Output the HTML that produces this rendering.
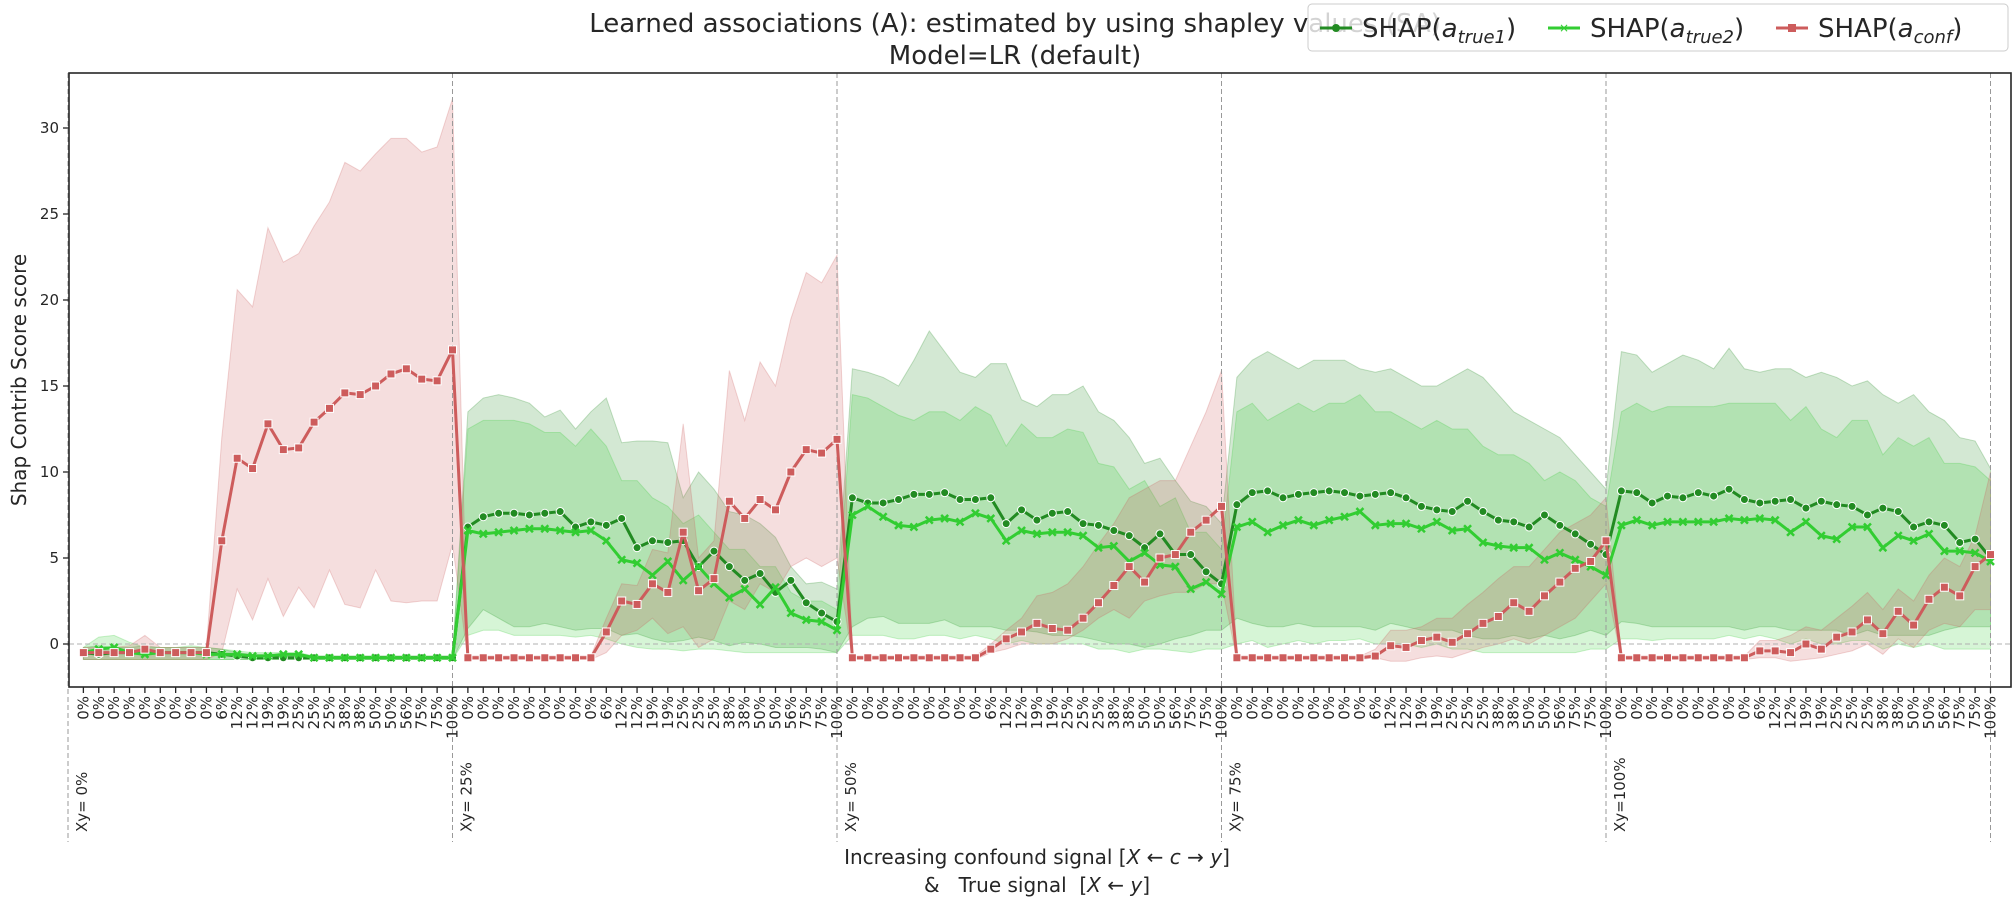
<!DOCTYPE html>
<html><head><meta charset="utf-8">
<style>
html,body{margin:0;padding:0;background:#fff;}
svg{display:block;font-family:"DejaVu Sans","Liberation Sans",sans-serif;}
</style></head>
<body>
<svg id="chart" width="2015" height="908" viewBox="0 0 2015 908" xmlns="http://www.w3.org/2000/svg">
<g id="bands"></g>
<g id="grid"></g>
<g id="lines"></g>
<g id="axes"></g>
<text x="1015" y="32" font-size="26" text-anchor="middle" fill="#262626">Learned associations (A): estimated by using shapley values (SA)</text>
<text x="1015" y="64" font-size="26" text-anchor="middle" fill="#262626">Model=LR (default)</text>
<text transform="translate(26,380) rotate(-90)" font-size="20" text-anchor="middle" fill="#262626">Shap Contrib Score score</text>
<text x="1037" y="864" font-size="20" text-anchor="middle" fill="#262626">Increasing confound signal [<tspan font-style="italic">X</tspan> ← <tspan font-style="italic">c</tspan> → <tspan font-style="italic">y</tspan>]</text>
<text x="1037" y="892" font-size="20" text-anchor="middle" fill="#262626" xml:space="preserve">&amp;   True signal  [<tspan font-style="italic">X</tspan> ← <tspan font-style="italic">y</tspan>]</text>
<g>
<rect x="1308" y="4" width="700" height="47" rx="4" fill="rgba(255,255,255,0.8)" stroke="#ccc"/>
<g>
<line x1="1320" y1="28" x2="1352" y2="28" stroke="#228b22" stroke-width="3"/><circle cx="1336" cy="28" r="4" fill="#228b22"/>
<text x="1362" y="37" font-size="26" fill="#262626">SHAP(<tspan font-style="italic">a</tspan><tspan font-size="18" dy="6" font-style="italic">true1</tspan><tspan dy="-6">)</tspan></text></g>
<g>
<line x1="1548" y1="28" x2="1580" y2="28" stroke="#32cd32" stroke-width="3"/><text x="1564" y="32" font-size="12" text-anchor="middle" fill="#32cd32">×</text>
<text x="1590" y="37" font-size="26" fill="#262626">SHAP(<tspan font-style="italic">a</tspan><tspan font-size="18" dy="6" font-style="italic">true2</tspan><tspan dy="-6">)</tspan></text></g>
<g>
<line x1="1776" y1="28" x2="1808" y2="28" stroke="#cd5c5c" stroke-width="3"/><rect x="1788" y="24" width="8" height="8" fill="#cd5c5c"/>
<text x="1818" y="37" font-size="26" fill="#262626">SHAP(<tspan font-style="italic">a</tspan><tspan font-size="18" dy="6" font-style="italic">conf</tspan><tspan dy="-6">)</tspan></text></g>
</g>
</svg>
<script>
const groupLabels = ["Xy= 0%","Xy= 25%","Xy= 50%","Xy= 75%","Xy=100%"];
const tickLabelsGroup = ["0%","0%","0%","0%","0%","0%","0%","0%","0%","6%","12%","12%","19%","19%","25%","25%","25%","38%","38%","50%","50%","56%","75%","75%","100%"];
const yTicks = [0,5,10,15,20,25,30];
const true1 = [-0.5,-0.6,-0.5,-0.5,-0.4,-0.5,-0.5,-0.5,-0.5,-0.6,-0.7,-0.8,-0.8,-0.8,-0.8,-0.8,-0.8,-0.8,-0.8,-0.8,-0.8,-0.8,-0.8,-0.8,-0.8,
6.8,7.4,7.6,7.6,7.5,7.6,7.7,6.8,7.1,6.9,7.3,5.6,6.0,5.9,6.0,4.5,5.4,4.5,3.7,4.1,3.0,3.7,2.4,1.8,1.3,
8.5,8.2,8.2,8.4,8.7,8.7,8.8,8.4,8.4,8.5,7.0,7.8,7.2,7.6,7.7,7.0,6.9,6.6,6.3,5.6,6.4,5.2,5.2,4.2,3.5,
8.1,8.8,8.9,8.5,8.7,8.8,8.9,8.8,8.6,8.7,8.8,8.5,8.0,7.8,7.7,8.3,7.7,7.2,7.1,6.8,7.5,6.9,6.4,5.8,5.2,
8.9,8.8,8.2,8.6,8.5,8.8,8.6,9.0,8.4,8.2,8.3,8.4,7.9,8.3,8.1,8.0,7.5,7.9,7.7,6.8,7.1,6.9,5.9,6.1,5.0];
const true1Hi = [-0.2,-0.1,-0.2,-0.2,-0.1,-0.2,-0.2,-0.2,-0.2,-0.3,-0.5,-0.6,-0.6,-0.6,-0.7,-0.7,-0.7,-0.7,-0.7,-0.7,-0.7,-0.7,-0.7,-0.7,-0.7,
13.5,14.3,14.5,14.3,14.0,13.2,13.6,12.5,13.5,14.3,11.7,11.8,11.8,11.7,8.5,10.0,9.0,7.7,7.5,7.0,6.2,4.5,3.5,3.6,3.2,
16.0,15.8,15.5,15.0,16.5,18.2,17.0,15.8,15.5,16.3,16.3,14.2,13.8,14.5,14.5,15.0,13.5,13.0,12.0,10.5,10.8,9.5,8.3,8.0,7.0,
15.5,16.5,17.0,16.5,16.0,16.5,16.5,16.5,16.0,15.8,16.0,15.5,15.0,15.0,15.5,16.0,15.5,14.5,13.5,13.0,12.5,12.0,11.0,10.0,9.0,
17.0,16.8,15.8,16.3,16.8,16.5,16.0,17.2,16.0,15.8,16.0,16.0,15.5,15.8,15.5,15.0,15.3,14.5,14.0,14.5,13.5,13.0,12.0,11.8,10.2];
const true1Lo = [-0.9,-0.9,-0.9,-0.9,-0.9,-0.9,-0.9,-0.9,-0.9,-0.9,-0.9,-0.9,-0.9,-0.9,-0.9,-0.9,-0.9,-0.9,-0.9,-0.9,-0.9,-0.9,-0.9,-0.9,-0.9,
0.9,2.0,1.5,1.0,1.0,1.2,1.0,0.8,0.9,0.9,0.5,0.6,0.3,0.1,0.2,0.4,0.2,-0.1,0.1,0,-0.2,-0.2,-0.2,-0.3,-0.5,
1.0,1.5,1.6,1.2,1.2,1.2,1.4,1.0,1.0,1.0,0.8,0.8,0.7,0.5,0.5,0.4,0.2,0,0,-0.2,0,0.3,0.5,0.8,0.8,
1.5,1.2,1.0,1.0,1.2,1.0,1.0,1.0,1.0,0.8,1.2,1.0,0.8,0.8,0.8,0.5,0.3,0.3,0.5,0.3,0.5,0.3,0.5,0.8,0.5,
1.3,1.2,1.0,1.0,1.0,1.0,1.0,1.0,0.8,1.0,1.0,0.8,0.8,0.8,0.8,0.5,0.8,0.5,0.5,0.5,0.5,0.8,1.0,1.0,1.0];
const true2 = [-0.5,-0.3,-0.2,-0.5,-0.6,-0.5,-0.5,-0.5,-0.6,-0.6,-0.6,-0.7,-0.7,-0.6,-0.6,-0.8,-0.8,-0.8,-0.8,-0.8,-0.8,-0.8,-0.8,-0.8,-0.8,
6.6,6.4,6.5,6.6,6.7,6.7,6.6,6.5,6.6,6.0,4.9,4.7,4.0,4.8,3.7,4.5,3.5,2.7,3.2,2.3,3.3,1.8,1.4,1.3,0.8,
7.5,8.0,7.4,6.9,6.8,7.2,7.3,7.1,7.6,7.3,6.0,6.6,6.4,6.5,6.5,6.3,5.6,5.7,4.8,5.3,4.6,4.5,3.2,3.6,2.9,
6.8,7.1,6.5,6.9,7.2,6.9,7.2,7.4,7.7,6.9,7.0,7.0,6.7,7.1,6.6,6.7,5.9,5.7,5.6,5.6,4.9,5.3,4.9,4.5,4.0,
6.9,7.2,6.9,7.1,7.1,7.1,7.1,7.3,7.2,7.3,7.2,6.5,7.1,6.3,6.1,6.8,6.8,5.6,6.3,6.0,6.4,5.4,5.4,5.3,4.8];
const true2Hi = [-0.2,0.4,0.5,0.1,-0.2,-0.2,-0.2,-0.1,-0.2,-0.3,-0.4,-0.5,-0.5,-0.5,-0.5,-0.7,-0.7,-0.7,-0.7,-0.7,-0.7,-0.7,-0.7,-0.7,-0.7,
12.5,13.0,13.0,13.0,12.8,12.3,12.3,11.5,12.5,11.5,9.5,9.5,8.5,8.0,7.0,7.5,6.5,5.5,5.5,4.5,4.5,3.0,2.5,2.5,2.0,
14.5,14.3,13.8,13.3,13.0,13.5,13.5,13.0,13.8,13.3,11.5,12.8,12.0,12.0,12.5,12.3,10.5,10.3,9.0,9.5,8.0,8.5,6.5,6.5,5.5,
13.5,14.0,13.0,13.5,14.0,13.5,14.0,14.0,14.5,13.5,13.5,13.0,12.5,13.0,12.5,12.5,11.5,11.0,11.0,10.5,9.5,10.0,9.5,8.5,8.0,
13.5,14.0,13.5,13.8,13.8,13.8,13.8,14.0,14.0,14.0,14.0,13.0,13.8,12.5,12.0,13.0,13.0,11.0,12.0,11.5,12.0,10.5,10.5,10.3,9.5];
const true2Lo = [-0.9,-0.9,-0.9,-0.9,-0.9,-0.9,-0.9,-0.9,-0.9,-0.9,-0.9,-0.9,-0.9,-0.9,-0.9,-0.9,-0.9,-0.9,-0.9,-0.9,-0.9,-0.9,-0.9,-0.9,-0.9,
0.5,0.8,0.8,0.5,0.5,0.5,0.5,0.4,0.5,0.3,0,-0.2,-0.3,-0.3,-0.4,-0.3,-0.3,-0.4,-0.5,-0.5,-0.5,-0.5,-0.5,-0.5,-0.5,
0.5,0.5,0.5,0.3,0.3,0.5,0.5,0.3,0.5,0.3,0,0.2,0,0,0,0,-0.3,-0.3,-0.5,-0.3,-0.3,-0.4,-0.5,-0.3,-0.3,
0,0.2,-0.2,0,0.2,0,0.2,0.2,0.3,0,0,0,-0.2,0,-0.3,-0.3,-0.5,-0.5,-0.5,-0.5,-0.5,-0.5,-0.5,-0.3,-0.3,
0.3,0.3,0.2,0.3,0.3,0.3,0.3,0.5,0.3,0.5,0.3,0,0.3,0,0,0.2,0.2,-0.3,0,-0.2,0,-0.3,-0.3,-0.3,-0.3];
const conf = [-0.5,-0.5,-0.5,-0.5,-0.3,-0.5,-0.5,-0.5,-0.5,6.0,10.8,10.2,12.8,11.3,11.4,12.9,13.7,14.6,14.5,15.0,15.7,16.0,15.4,15.3,17.1,
-0.8,-0.8,-0.8,-0.8,-0.8,-0.8,-0.8,-0.8,-0.8,0.7,2.5,2.3,3.5,3.0,6.5,3.1,3.8,8.3,7.3,8.4,7.8,10.0,11.3,11.1,11.9,
-0.8,-0.8,-0.8,-0.8,-0.8,-0.8,-0.8,-0.8,-0.8,-0.3,0.3,0.7,1.2,0.9,0.8,1.5,2.4,3.4,4.5,3.6,5.0,5.2,6.5,7.2,8.0,
-0.8,-0.8,-0.8,-0.8,-0.8,-0.8,-0.8,-0.8,-0.8,-0.7,-0.1,-0.2,0.2,0.4,0.1,0.6,1.2,1.6,2.4,1.9,2.8,3.6,4.4,4.8,6.0,
-0.8,-0.8,-0.8,-0.8,-0.8,-0.8,-0.8,-0.8,-0.8,-0.4,-0.4,-0.5,0.0,-0.3,0.4,0.7,1.4,0.6,1.9,1.1,2.6,3.3,2.8,4.5,5.2];
const confHi = [-0.2,-0.2,-0.2,-0.1,0.5,-0.2,-0.2,-0.2,-0.2,12.0,20.6,19.6,24.2,22.2,22.7,24.3,25.7,28.0,27.5,28.5,29.4,29.4,28.6,28.9,31.7,
-0.7,-0.7,-0.7,-0.7,-0.7,-0.7,-0.7,-0.7,-0.7,1.5,3.5,3.4,5.5,5.3,12.8,5.0,6.0,15.9,13.0,16.4,15.0,18.9,21.6,21.0,22.6,
-0.7,-0.7,-0.7,-0.7,-0.7,-0.7,-0.7,-0.7,-0.7,0.0,0.8,1.5,2.8,3.0,3.5,4.5,5.8,7.0,8.5,9.0,9.5,9.5,11.5,13.5,15.9,
-0.7,-0.7,-0.7,-0.7,-0.7,-0.7,-0.7,-0.7,-0.7,-0.3,0.8,0.8,1.0,1.5,1.5,2.3,3.0,3.8,4.5,4.5,5.5,6.5,7.0,7.5,8.5,
-0.7,-0.7,-0.7,-0.7,-0.7,-0.7,-0.7,-0.7,-0.7,0.2,0.2,0.5,1.0,0.8,1.5,2.2,3.0,2.0,3.2,2.5,4.0,5.0,4.5,6.3,10.0];
const confLo = [-0.9,-0.9,-0.9,-0.9,-0.9,-0.9,-0.9,-0.9,-0.9,-0.5,3.2,1.4,3.8,1.6,3.3,2.1,4.3,2.3,2.1,4.3,2.5,2.4,2.5,2.5,5.8,
-0.9,-0.9,-0.9,-0.9,-0.9,-0.9,-0.9,-0.9,-0.9,-0.5,0.5,0.8,1.5,0.6,1.0,-0.2,0.3,2.5,2.0,3.5,3.0,4.5,5.0,4.5,5.0,
-0.9,-0.9,-0.9,-0.9,-0.9,-0.9,-0.9,-0.9,-0.9,-0.5,-0.3,0,0,0,0.3,0.8,1.5,2.0,1.5,2.5,2.8,3.0,3.0,3.5,3.5,
-0.9,-0.9,-0.9,-0.9,-0.9,-0.9,-0.9,-0.9,-0.9,-0.8,-1.0,-1.0,-0.8,-0.7,-0.8,-0.5,-0.2,0,0.3,0,0.5,1.0,1.5,2.5,3.5,
-0.9,-0.9,-0.9,-0.9,-0.9,-0.9,-0.9,-0.9,-0.9,-0.8,-0.8,-1.0,-0.9,-0.8,-0.6,-0.4,0,-0.6,0.3,-0.2,0.8,1.2,1.0,2.0,2.0];

const NS="http://www.w3.org/2000/svg";
const L=69,R=2011,T=73,B=687;
const X0=68, STEP=15.38;
const xs=i=>X0+STEP*(i+1);
const ys=v=>644-17.2*v;
const N=true1.length;
function mk(tag,attrs,parent){const e=document.createElementNS(NS,tag);for(const k in attrs)e.setAttribute(k,attrs[k]);parent.appendChild(e);return e;}
const gB=document.getElementById('bands'),gG=document.getElementById('grid'),gL=document.getElementById('lines'),gA=document.getElementById('axes');

// grid: horizontal zero line and vertical group separators
let hz=mk('line',{x1:L,x2:R,y1:ys(0),y2:ys(0),stroke:'#b0b0b0','stroke-width':1,'stroke-dasharray':'5,3'},gG);


for(let g=0;g<=groupLabels.length;g++){
  const x=xs(g*tickLabelsGroup.length-1);
  const vl=mk('line',{x1:x,x2:x,y1:T,y2:842,stroke:'#999','stroke-width':1,'stroke-dasharray':'5,3'},gG);
  
  
  if(g<groupLabels.length){
    const t=mk('text',{transform:`translate(${x+19},832) rotate(-90)`,'font-size':15,fill:'#262626'},gA);
    t.textContent=groupLabels[g];
    
    
  }
}
function band(hi,lo,color,name){
  let d='M'+hi.map((v,i)=>xs(i)+','+ys(v)).join('L');
  for(let i=N-1;i>=0;i--)d+='L'+xs(i)+','+ys(lo[i]);
  const p=mk('path',{d:d+'Z',fill:color,'fill-opacity':0.2,stroke:color,'stroke-opacity':0.25,'stroke-width':1},gB);
  
  
}
band(true1Hi,true1Lo,'#228b22','band-true1');
band(true2Hi,true2Lo,'#32cd32','band-true2');
band(confHi,confLo,'#cd5c5c','band-conf');

function series(vals,color,marker,name){
  const g=mk('g',{},gL);
  
  
  mk('polyline',{points:vals.map((v,i)=>xs(i)+','+ys(v)).join(' '),fill:'none',stroke:color,'stroke-width':3,'stroke-linejoin':'round'},g);
  vals.forEach((v,i)=>{
    const x=xs(i),y=ys(v);
    let m;
    if(marker==='o')m=mk('circle',{cx:x,cy:y,r:4,fill:color,stroke:'#fff','stroke-width':1},g);
    else if(marker==='s')m=mk('rect',{x:x-4,y:y-4,width:8,height:8,fill:color,stroke:'#fff','stroke-width':1},g);
    else m=mk('path',{d:`M${x-3.5},${y-3.5}L${x+3.5},${y+3.5}M${x-3.5},${y+3.5}L${x+3.5},${y-3.5}`,stroke:color,'stroke-width':2.5},g);
    
    
  });
}
series(true1,'#228b22','o','line-true1');
series(true2,'#32cd32','x','line-true2');
series(conf,'#cd5c5c','s','line-conf');

// axes frame
const fr=mk('rect',{x:L,y:T,width:R-L,height:B-T,fill:'none',stroke:'#262626','stroke-width':1.6},gA);


yTicks.forEach(v=>{
  mk('line',{x1:L-6,x2:L,y1:ys(v),y2:ys(v),stroke:'#262626','stroke-width':1.3},gA);
  const t=mk('text',{x:L-10,y:ys(v)+5,'font-size':15,'text-anchor':'end',fill:'#262626'},gA);
  t.textContent=v;
  
  
});
for(let i=0;i<N;i++){
  const x=xs(i);
  mk('line',{x1:x,x2:x,y1:B,y2:B+6,stroke:'#262626','stroke-width':1.3},gA);
  const t=mk('text',{transform:`translate(${x+5},${B+9}) rotate(-90)`,'font-size':15,'text-anchor':'end',fill:'#262626'},gA);
  t.textContent=tickLabelsGroup[i%tickLabelsGroup.length];
  
  
}
</script>
</body></html>
